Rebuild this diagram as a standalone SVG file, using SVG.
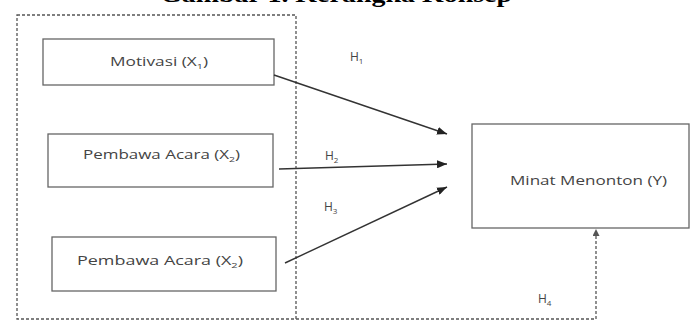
<svg xmlns="http://www.w3.org/2000/svg" width="692" height="323" viewBox="0 0 692 323">
<style>
.box{fill:#fff;stroke:#666;stroke-width:1.3}
.lbl{font-family:"Open Sans","Liberation Sans",sans-serif;font-size:13px;fill:#444}
.h{font-family:"Open Sans","Liberation Sans",sans-serif;font-size:12px;fill:#444}
.sub{font-size:8px}
.arrow{stroke:#333;stroke-width:1.4;fill:none;marker-end:url(#ah)}
.dash{stroke:#555;stroke-width:1.3;fill:none;stroke-dasharray:3 2}
.title{font-family:"Liberation Serif",serif;font-weight:bold;font-size:24px;fill:#000}
</style>
<defs>
<marker id="ah" viewBox="0 0 10 8" refX="10" refY="4" markerWidth="10" markerHeight="8" markerUnits="userSpaceOnUse" orient="auto">
<path d="M0,0 L10,4 L0,8 z" fill="#222"/>
</marker>
<marker id="ahd" viewBox="0 0 8 8" refX="8" refY="4" markerWidth="7" markerHeight="7" markerUnits="userSpaceOnUse" orient="auto">
<path d="M0,0 L8,4 L0,8 z" fill="#555"/>
</marker>
</defs>
<rect width="692" height="323" fill="#fff"/>
<text class="title" x="160" y="2" textLength="352" lengthAdjust="spacingAndGlyphs">Gambar 1. Kerangka Konsep</text>
<g id="group-x">
<path class="dash" d="M17,15 L296,15 L296,319 L17,319 Z"/>
</g>
<g id="node-x1">
<rect class="box" x="43" y="39" width="231" height="46"/>
<text class="lbl" x="110" y="66" textLength="98" lengthAdjust="spacingAndGlyphs">Motivasi (X<tspan class="sub" dy="3">1</tspan><tspan dy="-3">)</tspan></text>
</g>
<g id="node-x2">
<rect class="box" x="48" y="134" width="225" height="53"/>
<text class="lbl" x="83" y="159" textLength="157" lengthAdjust="spacingAndGlyphs">Pembawa Acara (X<tspan class="sub" dy="3">2</tspan><tspan dy="-3">)</tspan></text>
</g>
<g id="node-x3">
<rect class="box" x="52" y="237" width="224" height="54"/>
<text class="lbl" x="77" y="265" textLength="166" lengthAdjust="spacingAndGlyphs">Pembawa Acara (X<tspan class="sub" dy="3">2</tspan><tspan dy="-3">)</tspan></text>
</g>
<g id="node-y">
<rect class="box" x="472" y="124" width="217" height="104"/>
<text class="lbl" x="510" y="185" textLength="157" lengthAdjust="spacingAndGlyphs">Minat Menonton (Y)</text>
</g>
<g id="connectors">
<line class="arrow" x1="274" y1="75" x2="447" y2="134"/>
<line class="arrow" x1="279" y1="169" x2="447" y2="164"/>
<line class="arrow" x1="285" y1="263" x2="447" y2="187"/>
<path class="dash" d="M296,319 L596,319 L596,229" marker-end="url(#ahd)"/>
<text class="h" x="350" y="61">H<tspan class="sub" dy="3">1</tspan></text>
<text class="h" x="325" y="160">H<tspan class="sub" dy="3">2</tspan></text>
<text class="h" x="324" y="211">H<tspan class="sub" dy="3">3</tspan></text>
<text class="h" x="538" y="303">H<tspan class="sub" dy="3">4</tspan></text>
</g>
</svg>
